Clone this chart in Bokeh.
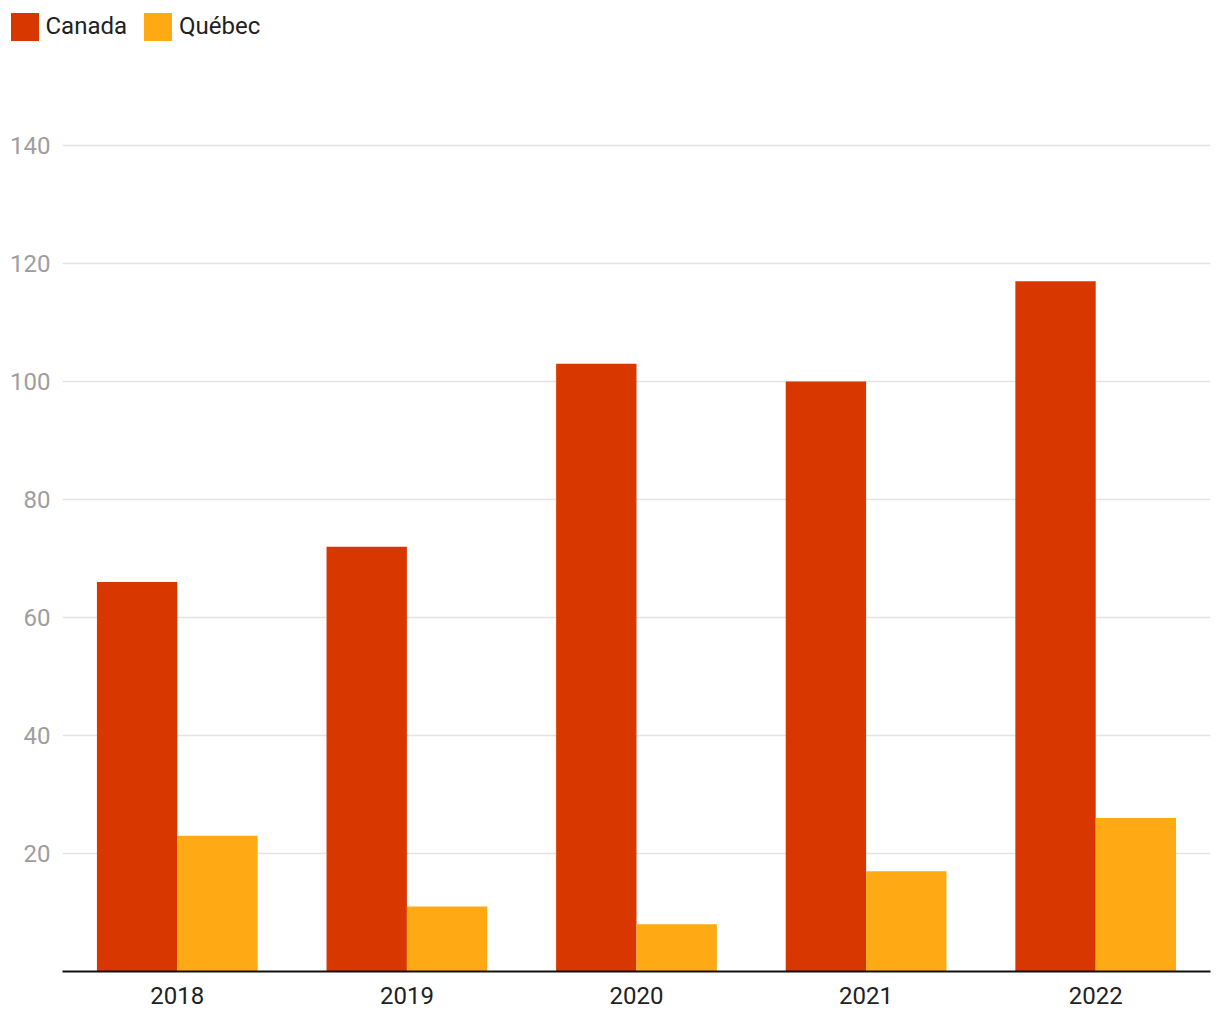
from bokeh.plotting import figure
from bokeh.layouts import column
from bokeh.models import ColumnDataSource, FactorRange, Range1d, FixedTicker, Legend, LegendItem
from bokeh.transform import dodge
from bokeh.embed import file_html
from bokeh.resources import INLINE

years = ["2018", "2019", "2020", "2021", "2022"]
canada = [66, 72, 103, 100, 117]
quebec = [23, 11, 8, 17, 26]
y_ticks = [20, 40, 60, 80, 100, 120, 140]
series_names = ["Canada", "Québec"]
series_colors = ["#D83700", "#FFAA15"]

src = ColumnDataSource(dict(years=years, canada=canada, quebec=quebec))

# ---- legend strip on top ----
lg = figure(width=1212, height=50, x_range=Range1d(0, 1), y_range=Range1d(0, 1),
            output_backend="svg", toolbar_location=None,
            x_axis_location=None, y_axis_location=None,
            min_border_left=0, min_border_right=0, min_border_top=0, min_border_bottom=0)
lg.frame_align = False
lg.outline_line_color = None
lg.xgrid.visible = False
lg.ygrid.visible = False
dummy = []
for c in series_colors:
    dummy.append(lg.vbar(x=[-10], top=[-10], bottom=[-11], width=0.1, color=c, line_color=None))
legend = Legend(items=[LegendItem(label=n, renderers=[r]) for n, r in zip(series_names, dummy)],
                orientation="horizontal", location=(6.5, 6.5),
                glyph_width=35, glyph_height=35, label_standoff=4, spacing=13,
                padding=0, margin=0, border_line_color=None, background_fill_alpha=0,
                label_text_font="Roboto", label_text_font_size="24px",
                label_text_color="#212121", label_height=35)
lg.add_layout(legend)

# ---- main chart ----
p = figure(x_range=FactorRange(*years, range_padding=0), y_range=Range1d(0, 156.1),
           width=1212, height=962, output_backend="svg", toolbar_location=None,
           min_border_left=62, min_border_right=2, min_border_top=0, min_border_bottom=41)
p.frame_align = False
p.outline_line_color = None

p.vbar(x=dodge("years", -0.175, range=p.x_range), top="canada", width=0.35,
       source=src, color=series_colors[0], line_color=None)
p.vbar(x=dodge("years", 0.175, range=p.x_range), top="quebec", width=0.35,
       source=src, color=series_colors[1], line_color=None)

p.yaxis.ticker = FixedTicker(ticks=y_ticks)
p.yaxis.axis_line_color = None
p.yaxis.major_tick_line_color = None
p.yaxis.minor_tick_line_color = None
p.yaxis.major_tick_out = 0
p.yaxis.major_tick_in = 0
p.yaxis.minor_tick_out = 0
p.yaxis.major_label_text_font = "Roboto"
p.yaxis.major_label_text_font_size = "24px"
p.yaxis.major_label_text_color = "#9e9e9e"
p.yaxis.major_label_standoff = 12

p.xaxis.axis_line_color = "#111111"
p.xaxis.axis_line_width = 2
p.xaxis.major_tick_line_color = None
p.xaxis.minor_tick_line_color = None
p.xaxis.major_tick_out = 0
p.xaxis.major_tick_in = 0
p.xaxis.major_label_text_font = "Roboto"
p.xaxis.major_label_text_font_size = "24px"
p.xaxis.major_label_text_color = "#222222"
p.xaxis.major_label_standoff = 15

p.xgrid.grid_line_color = None
p.ygrid.grid_line_color = "#e3e3e3"
p.ygrid.grid_line_width = 1.5

layout = column(lg, p, spacing=0)
open("out.html", "w").write(file_html(layout, INLINE))
